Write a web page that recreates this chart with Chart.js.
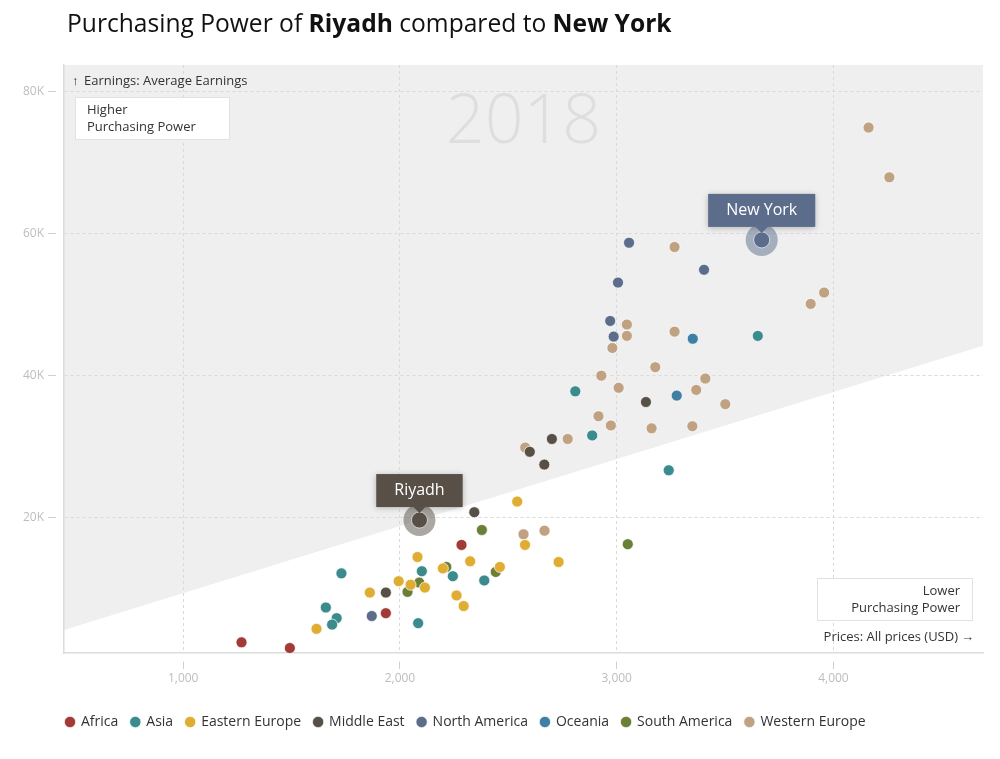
<!DOCTYPE html>
<html>
<head>
<meta charset="utf-8">
<script src="https://cdn.jsdelivr.net/npm/chart.js@4.4.1/dist/chart.umd.min.js"></script>
<style>
  html, body { margin: 0; padding: 0; background: #fff; }
  body { width: 1000px; height: 759px; position: relative; overflow: hidden; font-family: "Open Sans", sans-serif; }
  #title { position: absolute; left: 67px; top: 6px; font-size: 24.6px; color: #111; white-space: nowrap; }
  #title b { font-weight: 700; }
  #wrap { position: absolute; left: 0; top: 0; width: 1000px; height: 759px; }
</style>
</head>
<body>
<div id="wrap"><canvas id="chart"></canvas></div>
<div id="title">Purchasing Power of <b>Riyadh</b> compared to <b>New York</b></div>
<script>
const regions = ["Africa", "Asia", "Eastern Europe", "Middle East", "North America", "Oceania", "South America", "Western Europe"];
const regionColors = ["#a23b36", "#3a8a8e", "#e0ad33", "#584f47", "#5b6d8b", "#3f7fa3", "#6b7f37", "#c0a283"];

// [prices (USD), average earnings (USD)] per city
const africa = [[1269, 2500], [1492, 1700], [1935, 6600], [2284, 16200]];
const asia = [[1730, 12200], [1658, 7400], [1708, 5900], [1687, 5000], [2084, 5200], [2101, 12500],
    [2244, 11800], [2389, 11200], [2809, 37800], [2887, 31600], [3240, 26700], [3651, 45600]];
const easternEurope = [[2541, 22300], [2577, 16200], [2732, 13800], [2461, 13100], [2081, 14500], [2324, 13900],
    [2198, 12900], [1994, 11100], [2049, 10600], [2115, 10200], [1861, 9500], [2261, 9100], [2294, 7600], [1615, 4400]];
const middleEast = [[2343, 20800], [1935, 9500], [2701, 31100], [2599, 29300], [2666, 27500], [3135, 36300]];
const northAmerica = [[3057, 58700], [3403, 54900], [3006, 53100], [2970, 47700], [2986, 45500], [1870, 6200]];
const oceania = [[3351, 45200], [3277, 37200]];
const southAmerica = [[2378, 18300], [3051, 16300], [2442, 12400], [2214, 13100], [2089, 10900], [2035, 9600]];
const westernEurope = [[4162, 74900], [4258, 67900], [3267, 58100], [3957, 51700], [3895, 50100], [3047, 47200],
    [3047, 45600], [3267, 46200], [2980, 43900], [3178, 41200], [2929, 40000], [3409, 39600], [3009, 38300],
    [3367, 38000], [3501, 36000], [2916, 34300], [2973, 33000], [3161, 32600], [3349, 32900], [2774, 31100],
    [2578, 29900], [2570, 17700], [2667, 18200]];
const regionPoints = [africa, asia, easternEurope, middleEast, northAmerica, oceania, southAmerica, westernEurope];

// compared cities
const cities = ["Riyadh", "New York"];
const cityPrices = [2090, 3669];
const cityEarnings = [19700, 59100];
const cityRegion = [3, 4];

const xRange = [450, 4690];
const yRange = [1000, 83700];
const xTicks = [1000, 2000, 3000, 4000];
const xTickLabels = ["1,000", "2,000", "3,000", "4,000"];
const yTicks = [20000, 40000, 60000, 80000];
const yTickLabels = ["20K", "40K", "60K", "80K"];
const yearLabel = "2018";

// same earnings/price ratio as Riyadh -> border between higher and lower purchasing power
const ratio = cityEarnings[0] / cityPrices[0];
const parityLine = xRange.map(v => ({ x: v, y: v * ratio }));

function alpha(hex, a) {
    const n = parseInt(hex.slice(1), 16);
    return "rgba(" + (n >> 16) + "," + ((n >> 8) & 255) + "," + (n & 255) + "," + a + ")";
}

Chart.defaults.font.family = "'Open Sans', sans-serif";

const datasets = regions.map((name, i) => ({
    label: name,
    data: regionPoints[i].map(p => ({ x: p[0], y: p[1] })),
    backgroundColor: regionColors[i],
    borderColor: "rgba(255,255,255,0.7)",
    borderWidth: 1,
    pointRadius: 5.5,
    order: 1,
}));
datasets.push({
    type: "line",
    label: "parity",
    data: parityLine,
    fill: "end",
    backgroundColor: "#efefef",
    borderColor: "rgba(0,0,0,0)",
    borderWidth: 0,
    pointRadius: 0,
    order: 10,
});
datasets.push({
    label: "halo",
    data: cities.map((c, i) => ({ x: cityPrices[i], y: cityEarnings[i] })),
    backgroundColor: cityRegion.map(r => alpha(regionColors[r], 0.5)),
    borderWidth: 0,
    pointRadius: 16,
    order: -1,
});
datasets.push({
    label: "cities",
    data: cities.map((c, i) => ({ x: cityPrices[i], y: cityEarnings[i] })),
    backgroundColor: cityRegion.map(r => regionColors[r]),
    borderColor: "rgba(255,255,255,0.6)",
    borderWidth: 1,
    pointRadius: 8,
    order: -2,
});

function box(ctx, x, y, w, h) {
    ctx.fillStyle = "#fff";
    ctx.fillRect(x, y, w, h);
    ctx.strokeStyle = "#e2e2e2";
    ctx.lineWidth = 1;
    ctx.strokeRect(x + 0.5, y + 0.5, w - 1, h - 1);
}

const decorations = {
    id: "decorations",
    afterLayout(chart) {
        // legend starts under the plot's left edge, not at the canvas edge
        if (chart.legend) chart.legend.left = chart.chartArea.left - 11;
    },
    beforeDatasetsDraw(chart) {
        const { ctx, chartArea: a } = chart;
        ctx.save();
        ctx.font = "300 68px 'Open Sans'";
        ctx.fillStyle = "#dedede";
        ctx.textAlign = "center";
        ctx.textBaseline = "alphabetic";
        ctx.fillText(yearLabel, (a.left + a.right) / 2, a.top + 78);
        ctx.restore();
    },
    afterDatasetsDraw(chart) {
        const { ctx, chartArea: a } = chart;
        ctx.save();
        ctx.textBaseline = "middle";
        ctx.fillStyle = "#333";
        ctx.textAlign = "left";
        ctx.font = "bold 13px 'Open Sans'";
        ctx.fillText("\u2191", a.left + 8, a.top + 16);
        ctx.font = "13px 'Open Sans'";
        ctx.fillText("Earnings: Average Earnings", a.left + 20, a.top + 16);
        box(ctx, a.left + 11, a.top + 32, 155, 43);
        ctx.fillStyle = "#333";
        ctx.fillText("Higher", a.left + 23, a.top + 45);
        ctx.fillText("Purchasing Power", a.left + 23, a.top + 62);

        box(ctx, a.right - 166, a.bottom - 75, 156, 43);
        ctx.fillStyle = "#333";
        ctx.textAlign = "right";
        ctx.fillText("Lower", a.right - 23, a.bottom - 62);
        ctx.fillText("Purchasing Power", a.right - 23, a.bottom - 45);
        ctx.fillText("Prices: All prices (USD)", a.right - 25, a.bottom - 16);
        ctx.font = "bold 13px 'Open Sans'";
        ctx.fillText("\u2192", a.right - 9, a.bottom - 16);

        cities.forEach((name, i) => {
            const px = chart.scales.x.getPixelForValue(cityPrices[i]);
            const py = chart.scales.y.getPixelForValue(cityEarnings[i]);
            ctx.font = "16px 'Open Sans'";
            const w = ctx.measureText(name).width + 36;
            const h = 33;
            const bottom = py - 13;
            ctx.save();
            ctx.shadowColor = "rgba(0,0,0,0.25)";
            ctx.shadowBlur = 6;
            ctx.shadowOffsetY = 1;
            ctx.fillStyle = regionColors[cityRegion[i]];
            ctx.fillRect(px - w / 2, bottom - h, w, h);
            ctx.restore();
            ctx.fillStyle = regionColors[cityRegion[i]];
            ctx.beginPath();
            ctx.moveTo(px - 6, bottom);
            ctx.lineTo(px + 6, bottom);
            ctx.lineTo(px, bottom + 6);
            ctx.fill();
            ctx.fillStyle = "#fff";
            ctx.textAlign = "center";
            ctx.fillText(name, px, bottom - h / 2);
        });
        ctx.restore();
    }
};

new Chart(document.getElementById("chart"), {
    type: "scatter",
    data: { datasets: datasets },
    plugins: [decorations],
    options: {
        responsive: true,
        maintainAspectRatio: false,
        animation: false,
        events: [],
        layout: { padding: { left: 16, right: 17, top: 65, bottom: 20 } },
        plugins: {
            filler: { drawTime: "beforeDraw" },
            tooltip: { enabled: false },
            legend: {
                position: "bottom",
                align: "start",
                labels: {
                    usePointStyle: true,
                    pointStyle: "circle",
                    boxWidth: 8,
                    boxHeight: 8,
                    padding: 13,
                    color: "#333",
                    font: { size: 14 },
                    filter: item => item.datasetIndex < regions.length,
                }
            }
        },
        scales: {
            x: {
                type: "linear",
                min: xRange[0],
                max: xRange[1],
                afterBuildTicks: s => { s.ticks = xTicks.map(v => ({ value: v })); },
                afterFit: s => { s.height = 49; },
                ticks: {
                    color: "#bdbdbd",
                    font: { size: 12 },
                    padding: 2,
                    callback: (v, i) => xTickLabels[i],
                },
                grid: {
                    color: "#d9d9d9",
                    tickLength: 16,
                    tickColor: "#d0d0d0",
                    tickBorderDash: [8, 8],
                    tickBorderDashOffset: 8,
                },
                border: { display: true, color: "#dcdcdc", width: 1.5, dash: [3, 3] },
            },
            y: {
                type: "linear",
                min: yRange[0],
                max: yRange[1],
                afterBuildTicks: s => { s.ticks = yTicks.map(v => ({ value: v })); },
                afterFit: s => { s.width = 48; },
                ticks: {
                    color: "#bdbdbd",
                    font: { size: 12 },
                    padding: 4,
                    callback: (v, i) => yTickLabels[i],
                },
                grid: {
                    color: "#d9d9d9",
                    tickLength: 16,
                    tickColor: "#d0d0d0",
                    tickBorderDash: [8, 8],
                },
                border: { display: true, color: "#dcdcdc", width: 1.5, dash: [3, 3] },
            }
        }
    }
});
</script>
</body>
</html>
